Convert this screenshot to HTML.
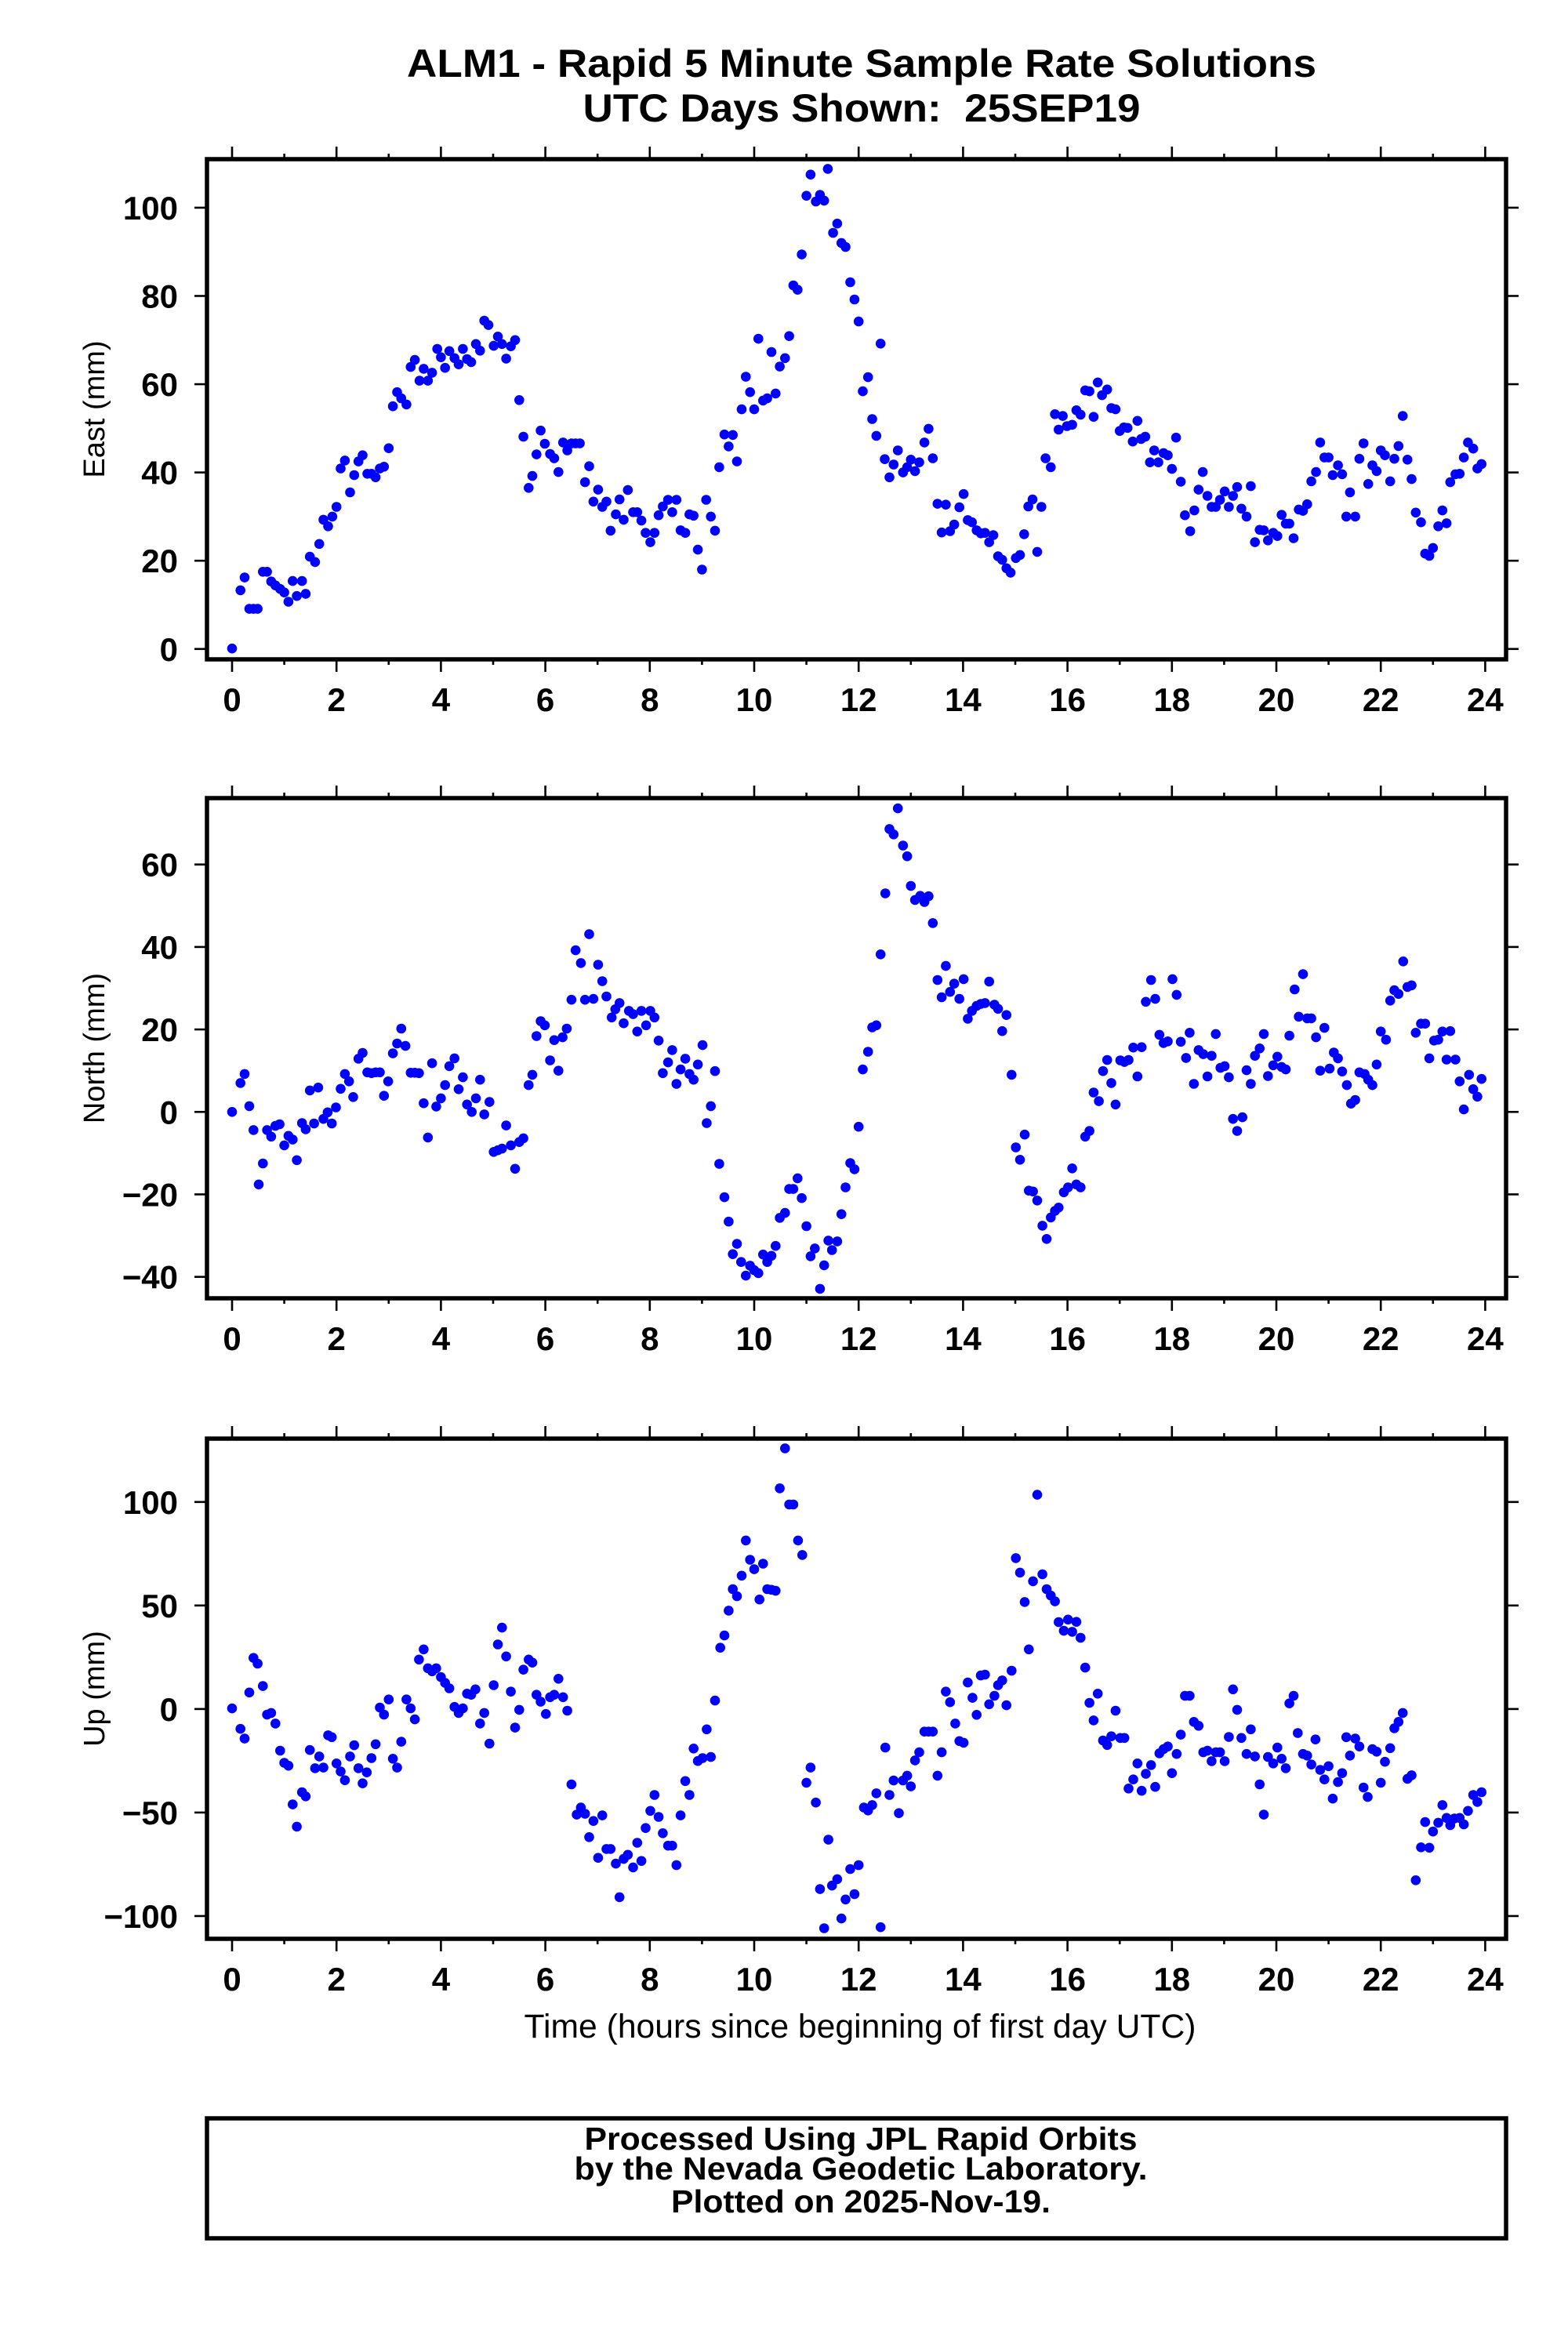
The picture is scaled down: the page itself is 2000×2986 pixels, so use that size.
<!DOCTYPE html>
<html><head><meta charset="utf-8"><style>
html,body{margin:0;padding:0;background:#fff;}
svg{display:block;}
text{font-family:"Liberation Sans",Arial,sans-serif;fill:#000;}
</style></head><body>
<svg id="chart" width="2000" height="2986" viewBox="0 0 2000 2986" xmlns="http://www.w3.org/2000/svg">
<rect width="2000" height="2986" fill="#fff"/>
<text x="1099" y="98" font-size="50" font-weight="bold" text-anchor="middle" textLength="1160" lengthAdjust="spacingAndGlyphs">ALM1 - Rapid 5 Minute Sample Rate Solutions</text>
<text x="1099" y="155" font-size="50" font-weight="bold" text-anchor="middle" textLength="711" lengthAdjust="spacingAndGlyphs" xml:space="preserve">UTC Days Shown:  25SEP19</text>
<g id="panels"></g>
<text x="1097" y="2599" font-size="43" text-anchor="middle" textLength="857" lengthAdjust="spacingAndGlyphs">Time (hours since beginning of first day UTC)</text>
<rect x="264" y="2702" width="1657" height="153" fill="none" stroke="#000" stroke-width="5.5"/>
<text x="1098" y="2742" font-size="41" font-weight="bold" text-anchor="middle" textLength="705" lengthAdjust="spacingAndGlyphs">Processed Using JPL Rapid Orbits</text>
<text x="1098" y="2780" font-size="41" font-weight="bold" text-anchor="middle" textLength="731" lengthAdjust="spacingAndGlyphs">by the Nevada Geodetic Laboratory.</text>
<text x="1098" y="2822" font-size="41" font-weight="bold" text-anchor="middle" textLength="484" lengthAdjust="spacingAndGlyphs">Plotted on 2025-Nov-19.</text>
</svg>
<script>
const xTicks = [0,2,4,6,8,10,12,14,16,18,20,22,24];
const eastTicks = [0,20,40,60,80,100];
const northTicks = [-40,-20,0,20,40,60];
const upTicks = [-100,-50,0,50,100];

const eastH = [0,0.16,0.24,0.33,0.41,0.49,0.59,0.67,0.75,0.83,0.92,1.0,1.08,1.16,1.24,1.34,1.41,1.49,1.59,1.67,1.75,1.84,1.92,2.0,2.08,2.16,2.26,2.34,2.42,2.5,2.59,2.67,2.75,2.83,2.91,3.0,3.08,3.16,3.24,3.34,3.42,3.5,3.59,3.67,3.75,3.83,3.93,4.0,4.08,4.16,4.26,4.34,4.42,4.5,4.58,4.67,4.75,4.83,4.91,5.01,5.09,5.17,5.25,5.34,5.42,5.5,5.58,5.68,5.75,5.83,5.91,5.99,6.09,6.17,6.25,6.34,6.42,6.5,6.58,6.66,6.76,6.84,6.92,7.01,7.09,7.17,7.25,7.35,7.42,7.5,7.58,7.68,7.76,7.84,7.92,8.01,8.09,8.17,8.25,8.35,8.43,8.51,8.59,8.68,8.76,8.84,8.92,9.0,9.08,9.17,9.25,9.33,9.43,9.51,9.59,9.67,9.76,9.84,9.92,10.0,10.08,10.17,10.25,10.33,10.41,10.49,10.59,10.67,10.75,10.83,10.91,11.0,11.08,11.18,11.26,11.34,11.41,11.51,11.59,11.67,11.75,11.84,11.92,12.0,12.08,12.18,12.26,12.34,12.42,12.5,12.59,12.67,12.75,12.85,12.93,13.0,13.08,13.16,13.26,13.34,13.42,13.51,13.59,13.67,13.75,13.83,13.93,14.01,14.09,14.17,14.26,14.34,14.42,14.5,14.58,14.67,14.75,14.83,14.91,15.01,15.09,15.17,15.25,15.33,15.42,15.5,15.58,15.68,15.76,15.83,15.91,15.99,16.09,16.17,16.25,16.34,16.42,16.5,16.58,16.66,16.76,16.84,16.92,17.0,17.08,17.15,17.25,17.34,17.41,17.49,17.58,17.66,17.74,17.84,17.92,18.0,18.08,18.17,18.25,18.35,18.43,18.51,18.59,18.68,18.76,18.84,18.92,19.01,19.09,19.17,19.25,19.33,19.43,19.51,19.59,19.68,19.76,19.84,19.94,20.02,20.1,20.18,20.25,20.33,20.43,20.51,20.59,20.67,20.76,20.84,20.92,21.0,21.08,21.18,21.26,21.34,21.41,21.51,21.59,21.67,21.76,21.84,21.92,22.0,22.08,22.18,22.26,22.34,22.42,22.51,22.59,22.67,22.77,22.85,22.93,23.0,23.1,23.18,23.26,23.33,23.43,23.51,23.59,23.67,23.77,23.85,23.93];
const eastV = [0.1,13.3,16.2,9.1,9.1,9.1,17.5,17.5,15.3,14.4,13.6,12.8,10.7,15.4,12.0,15.4,12.5,20.9,19.7,23.8,29.3,27.8,30.0,32.2,40.9,42.7,35.5,39.4,42.5,43.9,39.7,39.7,38.9,40.9,41.3,45.5,55.0,58.2,56.8,55.4,63.9,65.5,60.8,63.5,60.8,62.6,68.0,66.1,63.7,67.5,65.9,64.5,68.0,65.7,65.0,69.1,67.6,74.4,73.4,68.7,70.8,69.1,65.8,68.6,70.0,56.4,48.1,36.5,39.2,44.1,49.5,46.5,44.2,43.2,40.1,46.8,45.0,46.6,46.6,46.6,37.8,41.4,33.4,36.1,32.2,33.4,26.8,30.5,33.9,29.3,36.0,31.0,31.0,29.1,26.3,24.2,26.3,30.3,32.3,33.8,31.0,33.8,26.9,26.3,30.5,30.2,22.5,18.0,33.8,30.0,26.8,41.2,48.6,45.9,48.5,42.5,54.3,61.7,58.2,54.3,70.3,56.3,56.8,67.3,57.9,64.0,65.9,70.9,82.4,81.4,89.4,102.7,107.5,101.4,102.9,101.6,108.8,94.3,96.4,92.0,91.1,83.1,79.2,74.2,58.4,61.6,52.1,48.3,69.2,43.0,38.9,41.8,45.0,40.0,41.2,42.9,40.3,42.3,46.8,49.9,43.2,32.9,26.4,32.7,26.7,28.2,32.1,35.1,29.2,28.7,26.9,26.2,26.3,24.2,25.8,21.0,20.2,18.3,17.3,20.6,21.3,26.0,32.3,33.9,22.0,32.2,43.2,41.2,53.2,49.7,52.8,50.5,50.8,54.1,53.1,58.6,58.4,52.6,60.4,57.5,58.8,54.6,54.3,49.4,50.2,50.1,47.0,51.7,47.6,48.1,42.3,45.0,42.3,44.4,43.9,40.8,47.9,37.9,30.3,26.7,31.4,36.1,40.1,34.7,32.2,32.2,33.8,35.7,32.2,34.7,36.7,31.8,30.0,36.9,24.2,27.0,26.9,24.6,26.3,25.6,30.4,28.4,28.4,25.1,31.6,31.3,32.8,38.0,40.1,46.8,43.4,43.4,39.4,41.6,39.6,30.0,35.5,30.0,43.1,46.6,37.4,41.6,40.3,45.0,43.9,38.0,43.1,46.0,52.8,42.9,38.5,30.9,28.7,21.6,21.1,22.9,27.8,31.4,28.5,37.8,39.6,39.7,43.4,46.8,45.4,40.9,41.9];

const northH = [0,0.16,0.24,0.33,0.41,0.51,0.59,0.67,0.75,0.83,0.91,1.0,1.08,1.16,1.24,1.34,1.41,1.49,1.57,1.65,1.75,1.83,1.91,1.99,2.08,2.16,2.24,2.32,2.42,2.5,2.59,2.67,2.75,2.83,2.91,2.99,3.08,3.16,3.24,3.32,3.42,3.5,3.58,3.67,3.75,3.83,3.91,4.0,4.08,4.16,4.26,4.34,4.42,4.5,4.59,4.67,4.75,4.83,4.93,5.01,5.09,5.17,5.25,5.34,5.42,5.5,5.58,5.68,5.75,5.83,5.91,5.99,6.09,6.17,6.25,6.33,6.41,6.5,6.58,6.68,6.76,6.84,6.92,7.01,7.09,7.17,7.27,7.34,7.42,7.5,7.6,7.68,7.76,7.84,7.93,8.01,8.09,8.17,8.25,8.35,8.43,8.51,8.59,8.68,8.76,8.84,8.92,9.01,9.09,9.17,9.25,9.33,9.43,9.51,9.59,9.67,9.75,9.84,9.92,10.0,10.08,10.17,10.25,10.33,10.41,10.49,10.59,10.67,10.75,10.83,10.91,11.0,11.08,11.16,11.26,11.34,11.42,11.49,11.59,11.67,11.75,11.84,11.92,12.0,12.08,12.18,12.26,12.34,12.42,12.51,12.59,12.67,12.75,12.85,12.93,13.0,13.08,13.18,13.26,13.34,13.42,13.51,13.59,13.67,13.75,13.83,13.93,14.01,14.09,14.17,14.26,14.34,14.42,14.5,14.6,14.67,14.75,14.83,14.93,15.01,15.09,15.18,15.26,15.34,15.42,15.52,15.6,15.68,15.76,15.83,15.93,16.01,16.09,16.17,16.25,16.34,16.42,16.5,16.6,16.68,16.76,16.84,16.92,17.01,17.09,17.17,17.26,17.34,17.42,17.5,17.6,17.68,17.76,17.84,17.92,18.01,18.09,18.17,18.27,18.34,18.42,18.51,18.6,18.68,18.76,18.84,18.93,19.01,19.09,19.17,19.25,19.35,19.43,19.51,19.59,19.68,19.76,19.84,19.94,20.02,20.1,20.18,20.25,20.35,20.43,20.51,20.59,20.67,20.76,20.84,20.92,21.02,21.1,21.18,21.26,21.35,21.43,21.51,21.59,21.69,21.76,21.84,21.92,22.0,22.1,22.18,22.26,22.34,22.43,22.51,22.59,22.67,22.77,22.85,22.93,23.02,23.1,23.18,23.26,23.33,23.43,23.51,23.59,23.69,23.77,23.85,23.93];
const northV = [0.0,7.0,9.2,1.4,-4.4,-17.6,-12.5,-4.4,-6.0,-3.4,-3.0,-8.1,-5.8,-6.7,-11.7,-2.7,-4.2,5.2,-2.8,5.9,-1.7,-0.1,-2.8,1.1,5.6,9.2,7.4,3.6,12.9,14.3,9.6,9.4,9.6,9.6,3.9,7.4,14.2,16.6,20.2,16.0,9.5,9.5,9.4,2.1,-6.2,11.8,1.3,3.3,6.5,11.1,13.0,5.5,8.4,1.8,0,3.3,7.8,-0.6,2.4,-9.7,-9.3,-8.9,-3.3,-8.1,-13.8,-7.3,-6.4,6.5,9.0,18.4,22.0,21.0,12.5,17.4,10.0,18.1,20.2,27.2,39.2,36.1,27.2,43.1,27.4,35.7,31.7,28.0,22.9,24.9,26.4,21.5,24.5,23.7,19.5,24.5,21.0,24.5,22.9,17.3,9.4,12.0,15.0,6.8,10.3,12.9,9.2,7.8,11.5,16.2,-2.7,1.4,9.9,-12.6,-20.7,-26.6,-34.5,-32.0,-36.4,-39.7,-37.3,-38.4,-39.1,-34.6,-36.4,-34.9,-32.5,-25.7,-24.5,-18.7,-18.7,-16.1,-20.9,-27.7,-35.0,-33.1,-42.9,-37.2,-31.2,-33.5,-31.4,-24.8,-18.3,-12.4,-13.9,-3.6,10.3,14.6,20.5,21.0,38.2,53.0,68.6,67.3,73.6,64.6,62.0,54.8,51.4,52.4,50.9,52.3,45.8,32.0,27.8,35.4,29.1,31.1,27.4,32.2,22.6,24.5,25.7,26.2,26.4,31.6,26.0,25.0,19.6,23.5,9.0,-8.6,-11.6,-5.5,-19.1,-19.3,-21.5,-27.6,-30.8,-25.6,-24.0,-23.2,-19.5,-18.3,-13.7,-17.6,-18.3,-6.0,-4.6,4.7,2.6,9.9,12.6,7.0,1.8,12.5,12.1,12.6,15.6,8.6,15.7,26.7,32.0,27.4,18.7,16.7,17.1,32.2,28.4,17.0,13.1,19.2,6.8,15.0,14.0,8.6,13.6,18.9,10.7,11.1,8.4,-1.7,-4.6,-1.3,10.1,6.8,13.6,15.4,18.9,8.7,11.3,13.4,10.9,10.3,18.5,29.7,23.1,33.4,22.7,22.7,18.1,10.0,20.4,10.5,14.4,13.0,9.8,6.5,2.0,2.9,9.6,9.2,7.8,6.5,11.5,19.5,17.5,27.0,29.5,28.6,36.5,30.3,30.7,19.2,21.4,21.4,13.0,17.3,17.5,19.5,12.7,19.6,12.7,7.4,0.6,9.0,5.5,3.7,8.0];

const upH = [0,0.16,0.24,0.33,0.41,0.49,0.59,0.67,0.75,0.83,0.92,1.0,1.08,1.16,1.24,1.34,1.41,1.49,1.59,1.67,1.75,1.84,1.91,2.0,2.08,2.16,2.26,2.34,2.42,2.5,2.58,2.67,2.75,2.83,2.91,3.0,3.08,3.16,3.24,3.34,3.42,3.5,3.58,3.67,3.75,3.83,3.91,4.0,4.08,4.16,4.26,4.34,4.42,4.5,4.58,4.66,4.75,4.83,4.93,5.01,5.09,5.17,5.25,5.34,5.42,5.5,5.58,5.68,5.75,5.83,5.91,6.01,6.09,6.17,6.25,6.34,6.42,6.5,6.6,6.68,6.76,6.84,6.92,7.01,7.09,7.17,7.25,7.35,7.42,7.5,7.58,7.68,7.76,7.84,7.92,8.01,8.09,8.17,8.25,8.35,8.43,8.51,8.59,8.68,8.76,8.84,8.92,9.01,9.09,9.17,9.25,9.35,9.43,9.51,9.59,9.67,9.76,9.84,9.92,10.0,10.1,10.17,10.25,10.33,10.41,10.49,10.59,10.67,10.75,10.84,10.92,11.0,11.08,11.18,11.26,11.34,11.42,11.49,11.59,11.67,11.75,11.84,11.92,12.0,12.1,12.18,12.26,12.34,12.42,12.51,12.59,12.67,12.77,12.85,12.93,13.0,13.08,13.16,13.26,13.34,13.42,13.51,13.59,13.67,13.75,13.85,13.93,14.01,14.09,14.18,14.26,14.34,14.42,14.5,14.6,14.67,14.75,14.83,14.93,15.01,15.09,15.18,15.26,15.34,15.42,15.52,15.6,15.68,15.76,15.83,15.93,16.01,16.09,16.17,16.25,16.34,16.42,16.5,16.58,16.68,16.76,16.84,16.92,17.01,17.09,17.17,17.26,17.34,17.42,17.5,17.6,17.68,17.76,17.84,17.92,18.0,18.09,18.17,18.25,18.34,18.42,18.51,18.6,18.68,18.76,18.84,18.92,19.01,19.09,19.17,19.25,19.33,19.43,19.51,19.59,19.68,19.76,19.84,19.94,20.02,20.1,20.18,20.25,20.33,20.41,20.51,20.59,20.67,20.75,20.84,20.92,21.0,21.08,21.18,21.26,21.34,21.41,21.51,21.59,21.67,21.75,21.84,21.92,22.0,22.08,22.18,22.26,22.34,22.42,22.51,22.59,22.67,22.77,22.85,22.93,23.0,23.1,23.18,23.26,23.33,23.41,23.51,23.59,23.67,23.77,23.85,23.93];
const upV = [0.3,-9.6,-14.3,8.0,24.7,21.9,11.1,-2.7,-1.9,-7.0,-20.1,-26.0,-27.4,-46.1,-56.8,-40.2,-42.2,-19.8,-28.6,-22.9,-28.3,-12.7,-13.6,-26.3,-30.2,-34.4,-22.9,-17.5,-28.6,-35.9,-30.6,-23.7,-17.0,0.7,-2.7,4.6,-24.0,-28.3,-15.8,4.6,0.3,-5.0,23.9,28.8,19.7,18.2,19.7,15.4,12.6,10.0,1.0,-1.9,0.3,7.4,6.9,9.5,-7.0,-1.9,-16.7,11.5,31.2,39.3,25.4,8.4,-9.0,-0.4,19.0,23.9,22.4,6.9,3.5,-2.4,5.7,6.9,14.6,5.7,-0.8,-36.4,-51.0,-47.6,-50.6,-61.9,-54.1,-71.9,-51.4,-67.6,-67.6,-74.7,-90.9,-72.4,-70.4,-76.5,-64.6,-73.4,-57.5,-49.2,-41.5,-52.1,-60.0,-66.0,-66.0,-75.4,-51.4,-34.8,-41.5,-19.1,-25.1,-23.7,-9.8,-23.2,4.1,29.6,35.5,47.5,57.9,54.5,64.4,81.4,72.1,67.5,52.9,70.2,57.9,57.6,57.1,106.6,125.9,98.8,98.8,81.4,74.4,-35.6,-28.3,-45.2,-87.0,-105.9,-63.1,-85.3,-82.2,-101.2,-92.0,-77.3,-89.4,-75.4,-47.6,-49.0,-46.4,-40.7,-105.4,-18.6,-41.5,-34.5,-50.3,-34.5,-32.2,-37.4,-24.8,-20.9,-10.9,-10.9,-10.9,-32.2,-20.9,8.4,3.3,-7.0,-15.5,-16.3,12.8,5.4,-2.8,16.2,16.6,2.3,6.4,11.5,13.8,1.8,18.5,72.9,65.9,51.7,28.8,61.7,103.5,65.1,57.9,54.8,52.0,42.0,37.8,43.2,37.3,42.1,34.4,20.0,3.0,-5.5,7.4,-15.2,-17.4,-13.2,-0.8,-14.0,-14.0,-38.4,-34.0,-26.3,-39.5,-31.3,-27.1,-37.6,-21.4,-19.4,-18.1,-31.0,-21.7,-12.4,6.4,6.4,-6.2,-8.1,-20.9,-20.1,-25.2,-20.9,-20.9,-25.2,-13.5,9.5,-0.4,-14.0,-21.7,-9.8,-22.9,-36.4,-51.0,-23.2,-26.3,-18.6,-24.0,-28.6,2.7,6.4,-11.6,-21.7,-22.5,-26.8,-14.7,-29.4,-34.0,-27.6,-43.3,-35.3,-31.0,-13.6,-22.5,-14.3,-18.1,-37.9,-42.5,-19.4,-20.6,-35.6,-25.5,-18.9,-9.3,-6.2,-1.9,-33.7,-32.0,-82.7,-66.8,-54.6,-67.0,-59.2,-54.9,-46.4,-52.6,-56.1,-52.9,-52.6,-55.7,-49.2,-41.5,-44.9,-40.2];

const NS = 'http://www.w3.org/2000/svg';
const FX0 = 264, FX1 = 1921;
function xScale(h){ return 296 + h * 66.6; }

const panels = [
  {key:'east', title:'East (mm)', top:203, bottom:841, vMin:-2.35, vMax:111.0, ticks:eastTicks, H:eastH, V:eastV},
  {key:'north', title:'North (mm)', top:1018, bottom:1656, vMin:-45.2, vMax:76.1, ticks:northTicks, H:northH, V:northV},
  {key:'up', title:'Up (mm)', top:1835, bottom:2473, vMin:-111.0, vMax:130.6, ticks:upTicks, H:upH, V:upV}
];

function mk(tag, attrs, parent){
  const e = document.createElementNS(NS, tag);
  for (const k in attrs) e.setAttribute(k, attrs[k]);
  parent.appendChild(e);
  return e;
}

const root = document.getElementById('panels');
panels.forEach(p => {
  const yScale = v => p.bottom - (v - p.vMin) / (p.vMax - p.vMin) * (p.bottom - p.top);
  const g = mk('g', {}, root);
  
  

  const clip = mk('clipPath', {id:'clip-' + p.key}, g);
  mk('rect', {x:FX0, y:p.top, width:FX1-FX0, height:p.bottom-p.top}, clip);

  const pts = mk('g', {'clip-path':'url(#clip-' + p.key + ')'}, g);
  
  
  for (let i = 0; i < p.H.length; i++) {
    const c = mk('circle', {cx:xScale(p.H[i]).toFixed(1), cy:yScale(p.V[i]).toFixed(1), r:6.3, fill:'#0000ff'}, pts);
    
    
  }

  for (let h = 0; h <= 24; h++) {
    const x = xScale(h);
    const major = h % 2 === 0;
    const L = major ? 16 : 7;
    const tb = mk('line', {x1:x, x2:x, y1:p.bottom, y2:p.bottom + L, stroke:'#000', 'stroke-width':2.6}, g);
    
    
    const tt = mk('line', {x1:x, x2:x, y1:p.top, y2:p.top - L, stroke:'#000', 'stroke-width':2.6}, g);
    
    
  }
  xTicks.forEach(h => {
    const t = mk('text', {x:xScale(h), y:p.bottom + 66, 'font-size':42, 'font-weight':'bold', 'text-anchor':'middle'}, g);
    t.textContent = String(h);
    
    
  });

  p.ticks.forEach(v => {
    const y = yScale(v);
    const l1 = mk('line', {x1:FX0 - 16, x2:FX0, y1:y, y2:y, stroke:'#000', 'stroke-width':2.6}, g);
    
    
    const l2 = mk('line', {x1:FX1, x2:FX1 + 16, y1:y, y2:y, stroke:'#000', 'stroke-width':2.6}, g);
    
    
    const t = mk('text', {x:227, y:y + 15, 'font-size':42, 'font-weight':'bold', 'text-anchor':'end'}, g);
    t.textContent = v < 0 ? '\u2212' + Math.abs(v) : String(v);
    
    
  });

  const fr = mk('rect', {x:FX0, y:p.top, width:FX1-FX0, height:p.bottom-p.top, fill:'none', stroke:'#000', 'stroke-width':5.5}, g);
  
  

  const cy = (p.top + p.bottom) / 2;
  const yt = mk('text', {x:133, y:cy, 'font-size':38, 'text-anchor':'middle', transform:'rotate(-90 133 ' + cy + ')'}, g);
  yt.textContent = p.title;
  
  
});
</script>
</body></html>
